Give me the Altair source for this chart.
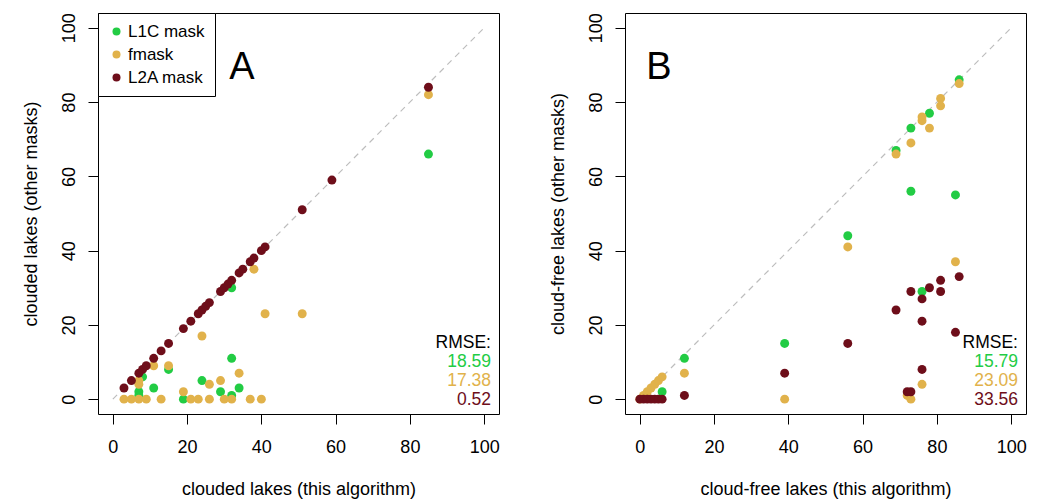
import altair as alt
import pandas as pd

FONT = "Liberation Sans"
masks = ["L1C mask", "fmask", "L2A mask"]
colors = ["#22CC44", "#E1B24B", "#6E0E1A"]
ticks = [0, 20, 40, 60, 80, 100]

# ---- Panel A: clouded lakes ----
a_l1c_x = [7, 7, 8, 11, 15, 19, 24, 29, 32, 32, 34, 32, 85]
a_l1c_y = [2, 1, 6, 3, 8, 0, 5, 2, 1, 11, 3, 30, 66]
a_fmask_x = [3, 5, 7, 9, 13, 21, 23, 26, 30, 32, 37, 40, 19, 24, 11, 15, 7, 7, 26, 29, 34, 38, 41, 51, 85]
a_fmask_y = [0, 0, 0, 0, 0, 0, 0, 0, 0, 0, 0, 0, 2, 17, 9, 9, 5, 4, 4, 5, 7, 35, 23, 23, 82]
a_l2a_x = [3, 5, 7, 8, 9, 11, 13, 15, 19, 21, 23, 24, 25, 26, 29, 30, 31, 32, 34, 35, 37, 38, 40, 41, 51, 59, 85]
a_l2a_y = [3, 5, 7, 8, 9, 11, 13, 15, 19, 21, 23, 24, 25, 26, 29, 30, 31, 32, 34, 35, 37, 38, 40, 41, 51, 59, 84]
a_rmse = ["18.59", "17.38", "0.52"]

# ---- Panel B: cloud-free lakes ----
b_l1c_x = [86, 78, 73, 69, 73, 85, 56, 39, 76, 12, 6]
b_l1c_y = [86, 77, 73, 67, 56, 55, 44, 15, 29, 11, 2]
b_fmask_x = [86, 81, 81, 76, 76, 78, 73, 69, 56, 85, 76, 72, 73, 39, 12, 0, 1, 2, 3, 4, 5, 6]
b_fmask_y = [85, 81, 79, 76, 75, 73, 69, 66, 41, 37, 4, 1, 0, 0, 7, 0, 1, 2, 3, 4, 5, 6]
b_l2a_x = [86, 81, 78, 81, 73, 76, 69, 76, 85, 56, 39, 76, 72, 73, 12, 0, 1, 2, 3, 4, 5, 6]
b_l2a_y = [33, 32, 30, 29, 29, 27, 24, 21, 18, 15, 7, 8, 2, 2, 1, 0, 0, 0, 0, 0, 0, 0]
b_rmse = ["15.79", "23.09", "33.56"]

diag_x = [0, 100]
diag_y = [0, 100]


def make_df(groups):
    rows = []
    for i, (xs, ys) in enumerate(groups):
        for x, y in zip(xs, ys):
            rows.append({"x": x, "y": y, "mask": masks[i], "ord": i})
    return pd.DataFrame(rows)


def panel(df, letter, letter_x, rmse, xtitle, ytitle, show_legend):
    sc = alt.Scale(domain=[-4, 104], nice=False, zero=False)
    common = dict(values=ticks, grid=False, domain=False, tickSize=10, tickColor="black",
                  labelFontSize=18, labelColor="black", titleFontSize=18, titleColor="black",
                  titleFontWeight="normal", labelFont=FONT, titleFont=FONT, labelFlush=False)
    xax = alt.Axis(title=xtitle, labelPadding=14, titlePadding=24, **common)
    yax = alt.Axis(title=ytitle, labelPadding=10, titlePadding=20, labelAngle=270,
                   labelAlign="center", labelBaseline="bottom", **common)

    line = alt.Chart(pd.DataFrame({"x": diag_x, "y": diag_y})).mark_line(
        strokeDash=[6, 5], color="#bdbdbd", strokeWidth=1.2
    ).encode(x=alt.X("x:Q", scale=sc, axis=xax), y=alt.Y("y:Q", scale=sc, axis=yax))

    if show_legend:
        leg = alt.Legend(title=None, orient="top-left", offset=0, padding=10,
                         strokeColor="black", fillColor="white", labelFontSize=17,
                         labelFont=FONT, labelColor="black", symbolType="circle",
                         symbolSize=64, symbolStrokeWidth=0, labelOffset=3, rowPadding=5,
                         cornerRadius=0)
    else:
        leg = None
    pts = alt.Chart(df).mark_circle(size=80, opacity=1, clip=True).encode(
        x=alt.X("x:Q", scale=sc),
        y=alt.Y("y:Q", scale=sc),
        color=alt.Color("mask:N", scale=alt.Scale(domain=masks, range=colors), legend=leg),
        order=alt.Order("ord:Q", sort="ascending"),
    )

    lett = alt.Chart(pd.DataFrame({"t": [letter]})).mark_text(
        fontSize=38, font=FONT, color="black", align="center", baseline="middle"
    ).encode(text="t:N", x=alt.value(letter_x), y=alt.value(55))

    layers = [line, pts, lett]
    texts = ["RMSE:"] + rmse
    tcols = ["black"] + colors
    for i, (t, c) in enumerate(zip(texts, tcols)):
        layers.append(
            alt.Chart(pd.DataFrame({"t": [t]})).mark_text(
                fontSize=17.5, font=FONT, color=c, align="right", baseline="middle"
            ).encode(text="t:N", x=alt.value(393), y=alt.value(330 + 19 * i))
        )
    return alt.layer(*layers).properties(width=401, height=401)


dfA = make_df([(a_l1c_x, a_l1c_y), (a_fmask_x, a_fmask_y), (a_l2a_x, a_l2a_y)])
dfB = make_df([(b_l1c_x, b_l1c_y), (b_fmask_x, b_fmask_y), (b_l2a_x, b_l2a_y)])

pA = panel(dfA, "A", 144, a_rmse, "clouded lakes (this algorithm)", "clouded lakes (other masks)", True)
pB = panel(dfB, "B", 34, b_rmse, "cloud-free lakes (this algorithm)", "cloud-free lakes (other masks)", False)

chart = alt.hconcat(pA, pB, spacing=48).resolve_scale(color="independent").properties(
    padding={"left": 21, "top": 12, "right": 5, "bottom": 0},
    background="white",
).configure_view(stroke="black", strokeWidth=1)

chart.save("out.html", embed_options={"renderer": "svg", "actions": False})
